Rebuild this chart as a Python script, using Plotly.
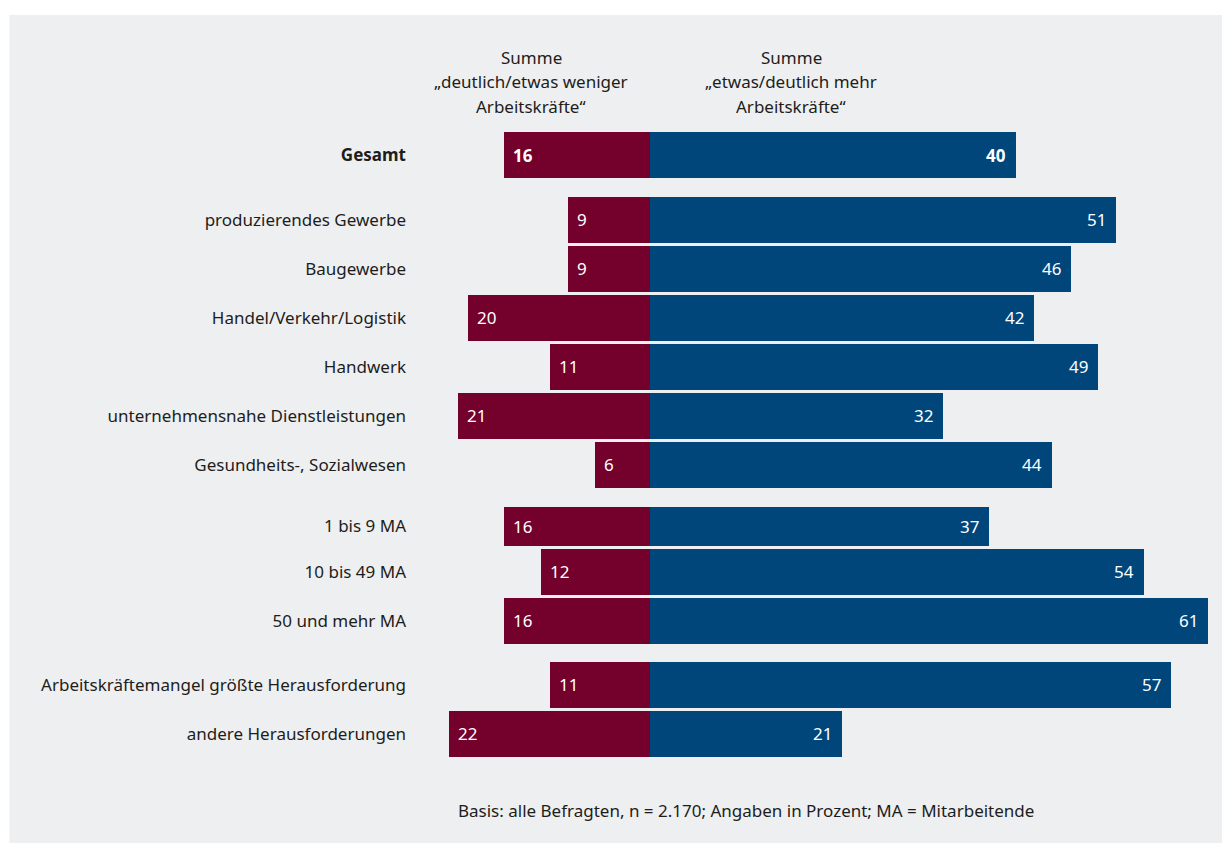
import plotly.graph_objects as go

# Rows of the diverging bar chart (top to bottom)
categories = [
    "Gesamt",
    "produzierendes Gewerbe",
    "Baugewerbe",
    "Handel/Verkehr/Logistik",
    "Handwerk",
    "unternehmensnahe Dienstleistungen",
    "Gesundheits-, Sozialwesen",
    "1 bis 9 MA",
    "10 bis 49 MA",
    "50 und mehr MA",
    "Arbeitskräftemangel größte Herausforderung",
    "andere Herausforderungen",
]
# Summe "deutlich/etwas weniger Arbeitskräfte" (in %)
weniger = [16, 9, 9, 20, 11, 21, 6, 16, 12, 16, 11, 22]
# Summe "etwas/deutlich mehr Arbeitskräfte" (in %)
mehr = [40, 51, 46, 42, 49, 32, 44, 37, 54, 61, 57, 21]
# block each row belongs to
groups = [0, 1, 1, 1, 1, 1, 1, 2, 2, 2, 3, 3]

header_left = ["Summe", "„deutlich/etwas weniger", "Arbeitskräfte“"]
header_right = ["Summe", "„etwas/deutlich mehr", "Arbeitskräfte“"]
footnote = "Basis: alle Befragten, n = 2.170; Angaben in Prozent; MA = Mitarbeitende"

# ---- styling / layout ----
RED = "#74002c"
BLUE = "#00467b"
BG = "#eeeff1"
TXT = "#1d1d1b"
FONT = "Noto Sans"
FS = 17
W, H = 1222, 843

ZERO_PX, PX_PER_UNIT = 650, 9.14
X_MIN, X_MAX = -22.9, 62.0
ML = ZERO_PX + X_MIN * PX_PER_UNIT
MR = W - (ZERO_PX + X_MAX * PX_PER_UNIT)
MT, MB = 40, 43
PLOT_W = W - ML - MR
PLOT_H = H - MT - MB

ROW_PX = 49          # distance between neighbouring rows
FIRST_ROW_PX = 155   # centre of the first row
BAR_W = 0.94
group_offset = [0.0, 0.32, 0.506, 0.81]
top_trim = {"1 bis 9 MA": 0.15}

ypos, widths = [], []
for i, (c, g) in enumerate(zip(categories, groups)):
    t = top_trim.get(c, 0.0)
    ypos.append(i + group_offset[g] + t / 2)
    widths.append(BAR_W - t)

y_top = (MT - FIRST_ROW_PX) / ROW_PX
y_bot = (H - MB - FIRST_ROW_PX) / ROW_PX


def px_x(px):
    return (px - ML) / PLOT_W


def px_y(py):
    return (H - MB - py) / PLOT_H


fig = go.Figure()
fig.add_trace(go.Bar(
    y=ypos, x=[-v for v in weniger], width=widths, orientation="h",
    marker=dict(color=RED, line=dict(width=0)), hoverinfo="skip", showlegend=False,
))
fig.add_trace(go.Bar(
    y=ypos, x=mehr, width=widths, orientation="h",
    marker=dict(color=BLUE, line=dict(width=0)), hoverinfo="skip", showlegend=False,
))
fig.update_layout(barmode="relative")

ann = []
for c, y, a, b in zip(categories, ypos, weniger, mehr):
    bold = c == "Gesamt"
    fmt = (lambda s: f"<b>{s}</b>") if bold else (lambda s: str(s))
    ann.append(dict(x=-a, y=y, xref="x", yref="y", text=fmt(a), showarrow=False,
                    xanchor="left", xshift=7, font=dict(color="white", size=FS, family=FONT)))
    ann.append(dict(x=b, y=y, xref="x", yref="y", text=fmt(b), showarrow=False,
                    xanchor="right", xshift=-8, font=dict(color="white", size=FS, family=FONT)))

for cx, lines in ((531, header_left), (791, header_right)):
    for k, line in enumerate(lines):
        ann.append(dict(x=px_x(cx), y=px_y(58 + 24 * k), xref="paper", yref="paper",
                        text=line, showarrow=False, xanchor="center", yanchor="middle",
                        font=dict(color=TXT, size=FS, family=FONT)))

ann.append(dict(x=px_x(746), y=px_y(810), xref="paper", yref="paper", text=footnote,
                showarrow=False, xanchor="center", yanchor="middle",
                font=dict(color=TXT, size=FS, family=FONT)))

ticktext = [f"<b>{c}</b>" if c == "Gesamt" else c for c in categories]

fig.update_layout(
    width=W, height=H,
    margin=dict(l=ML, r=MR, t=MT, b=MB, pad=0),
    paper_bgcolor="white",
    plot_bgcolor="rgba(0,0,0,0)",
    font=dict(family=FONT, color=TXT, size=FS),
    xaxis=dict(range=[X_MIN, X_MAX], visible=False, fixedrange=True),
    yaxis=dict(range=[y_bot, y_top], tickvals=ypos, ticktext=ticktext,
               showgrid=False, zeroline=False, showline=False, ticks="",
               ticklabelstandoff=34, tickfont=dict(size=FS, color=TXT, family=FONT),
               fixedrange=True),
    bargap=0,
    annotations=ann,
    shapes=[dict(type="rect", xref="paper", yref="paper", layer="below",
                 x0=px_x(9), x1=px_x(W + 5), y0=px_y(15), y1=px_y(H + 5),
                 fillcolor=BG, line=dict(width=0))],
)

fig.write_html("out.html", config=dict(displayModeBar=False))
